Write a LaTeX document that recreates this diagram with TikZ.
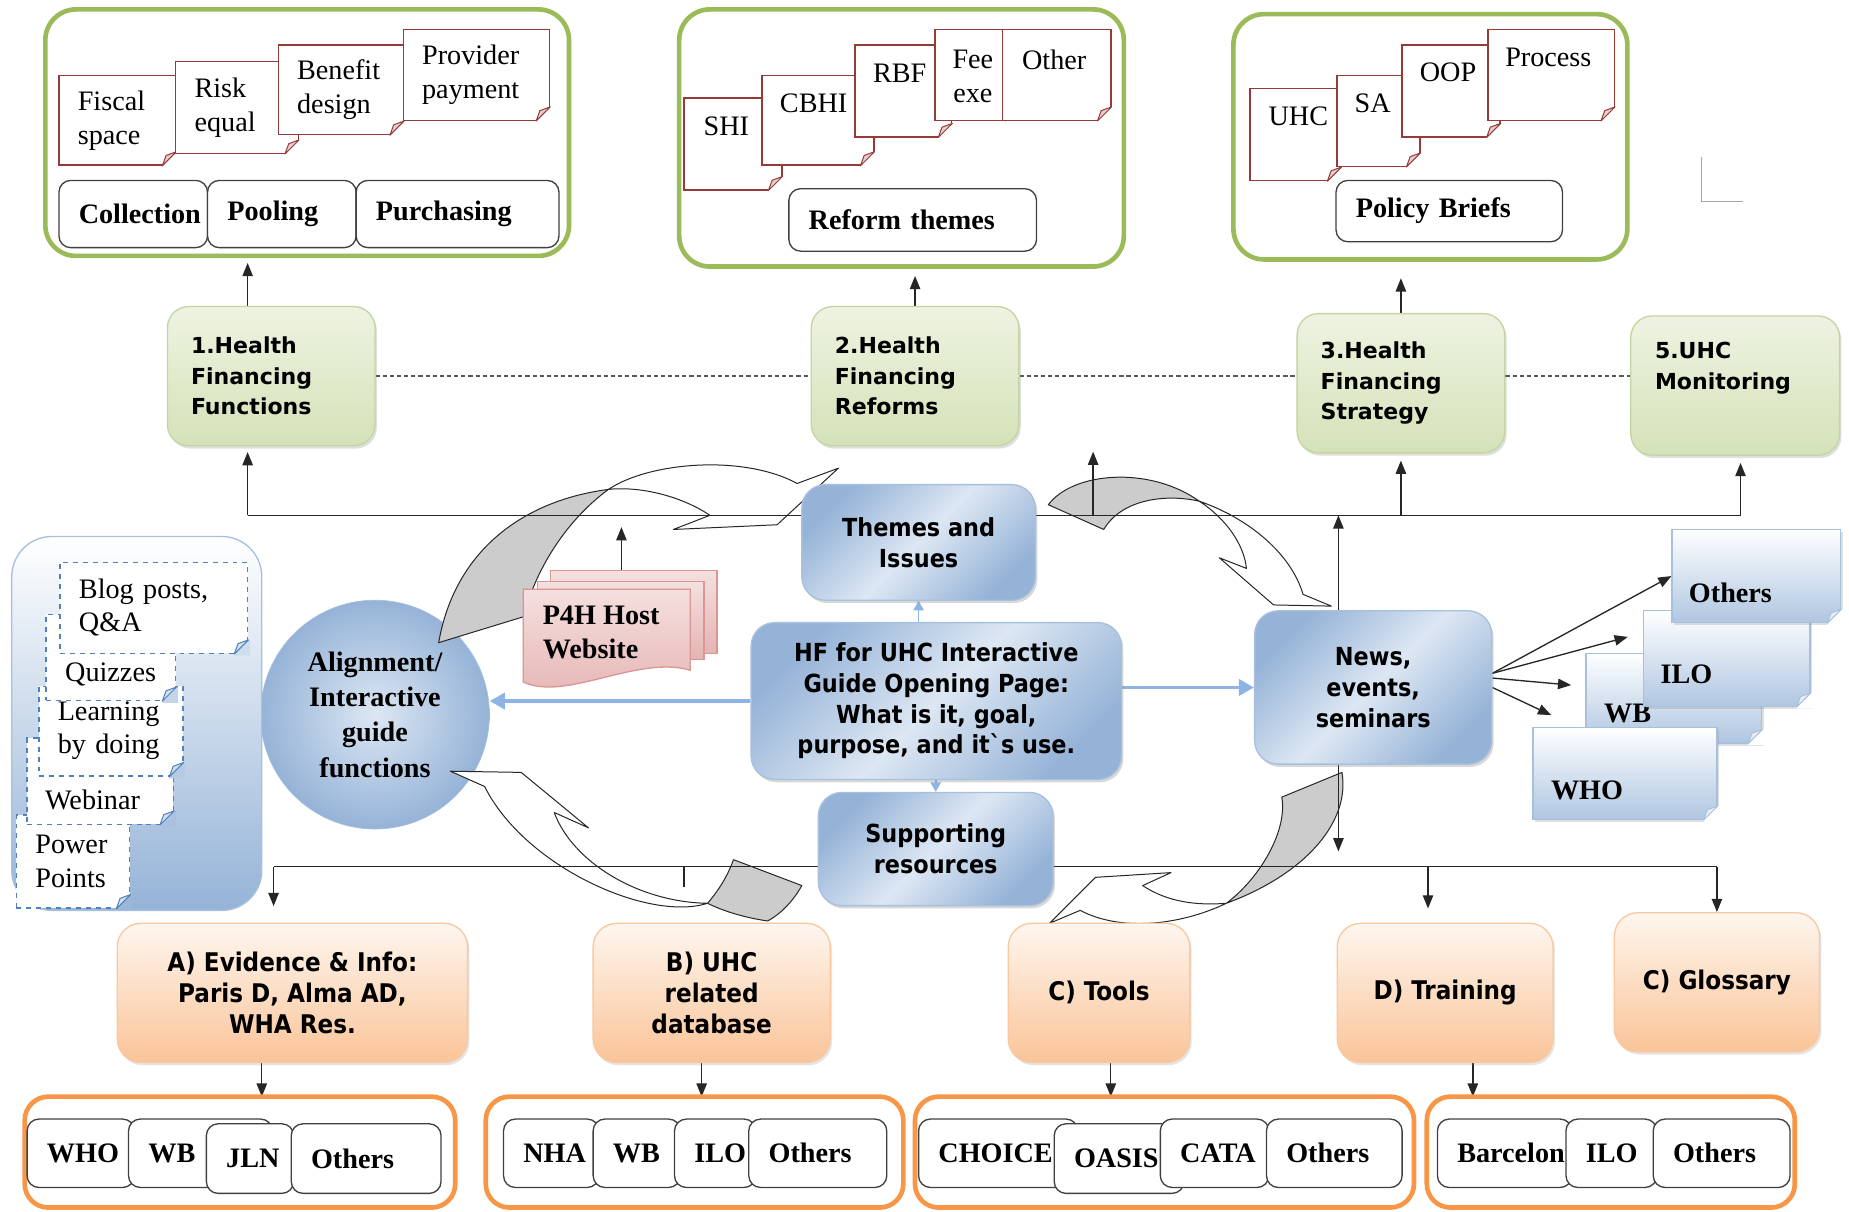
\documentclass[tikz,border=0pt]{standalone}
\usepackage{fontspec}
\setmainfont{Liberation Serif}
\newfontfamily\vsans{DejaVu Sans}
\newfontfamily\csans{DejaVu Sans Condensed}
\usetikzlibrary{arrows.meta,shadows}
\pgfdeclarelayer{bg}
\pgfsetlayers{bg,main}

\definecolor{hfgreen}{RGB}{155,187,89}
\definecolor{greentop}{RGB}{238,243,226}
\definecolor{greenbot}{RGB}{212,226,184}
\definecolor{greenedge}{RGB}{196,214,160}
\definecolor{notered}{RGB}{150,58,56}
\definecolor{blueD}{RGB}{149,179,215}
\definecolor{blueL}{RGB}{221,231,243}
\definecolor{blueedge}{RGB}{167,192,222}
\definecolor{hfblue}{RGB}{141,180,226}
\definecolor{dashblue}{RGB}{79,129,189}
\definecolor{peachtop}{RGB}{254,246,239}
\definecolor{peachbot}{RGB}{250,196,152}
\definecolor{peachedge}{RGB}{250,200,160}
\definecolor{bandorange}{RGB}{247,150,70}
\definecolor{pinktop}{RGB}{244,224,223}
\definecolor{pinkbot}{RGB}{229,180,179}
\definecolor{pinkedge}{RGB}{217,150,148}
\definecolor{flowgray}{RGB}{204,204,204}

% folded corner of a note: [cut colour]{node}{line colour}
\newcommand{\notefold}[3][white]{%
  \fill[#1] ([xshift=-0.3cm]#2.south east) -- ([xshift=-0.3cm,yshift=-1pt]#2.south east) -- ([xshift=1pt,yshift=-1pt]#2.south east) -- ([xshift=1pt,yshift=0.3cm]#2.south east) -- ([yshift=0.3cm]#2.south east) -- cycle;
  \draw[#3, line width=0.6pt, fill=#3!25, line join=round] ([xshift=-0.3cm]#2.south east) -- ([yshift=0.3cm]#2.south east) -- ([xshift=-0.22cm,yshift=0.22cm]#2.south east) -- cycle;}

\begin{document}
\begin{tikzpicture}[x=0.025cm, y=-0.025cm,
    every node/.style={inner sep=0pt},
    frame/.style={draw=hfgreen, line width=2.8pt, rounded corners=0.65cm},
    paperbox/.style={draw=notered, line width=0.9pt, fill=white},
    paper/.style={paperbox, text width=#1, inner xsep=0.4cm, align=left, font=\fontsize{17}{20.5}\selectfont},
    plain/.style={font=\fontsize{17}{20.5}\selectfont, align=center},
    rtext/.style={anchor=west, font=\fontsize{17}{20}\selectfont},
    btext/.style={anchor=west, font=\fontsize{17}{20}\selectfont\bfseries},
    tab/.style={draw=black!75, line width=0.8pt, fill=white, rounded corners=0.25cm, minimum height=1.45cm, text width=#1, inner xsep=0.42cm, align=left, font=\fontsize{17}{20}\selectfont\bfseries},
    greenbox/.style={draw=greenedge, line width=0.8pt, top color=greentop, bottom color=greenbot, rounded corners=0.45cm, minimum width=4.4cm, minimum height=2.95cm, text width=3.4cm, inner xsep=0.5cm, align=left, font=\vsans\bfseries\fontsize{13.3}{18.4}\selectfont, drop shadow={shadow xshift=0.04cm, shadow yshift=-0.06cm, opacity=0.25}},
    bluebox/.style={draw=blueedge, line width=0.8pt, top color=blueD, bottom color=blueD, middle color=blueL, shading angle=45, rounded corners=0.5cm, align=center, font=\csans\bfseries\fontsize{15}{18.5}\selectfont, drop shadow={shadow xshift=0.04cm, shadow yshift=-0.06cm, opacity=0.3}},
    peach/.style={draw=peachedge, line width=0.8pt, top color=peachtop, bottom color=peachbot, rounded corners=0.5cm, align=center, font=\csans\bfseries\fontsize{15.5}{18.5}\selectfont, drop shadow={shadow xshift=0.04cm, shadow yshift=-0.06cm, opacity=0.2}},
    band/.style={draw=bandorange, line width=2.8pt, rounded corners=0.5cm},
    panel/.style={draw=blueedge, line width=0.8pt, top color=white, bottom color=blueD, rounded corners=0.85cm},
    dbox/.style={draw=dashblue, dashed, line width=0.9pt, fill=white},
    dnote/.style={dbox, text width=#1, inner xsep=0.4cm, align=left, font=\fontsize{17}{20}\selectfont},
    stack/.style={draw=blueedge, line width=0.8pt, top color=white, bottom color=blueD!75, drop shadow={shadow xshift=0.04cm, shadow yshift=-0.06cm, opacity=0.25}},
    webpaper/.style={draw=pinkedge, line width=0.8pt, top color=pinktop, bottom color=pinkbot},
    conn/.style={draw=black!85, line width=0.8pt},
    arr/.style={conn, -{Triangle[length=0.28cm,width=0.22cm]}},
    bluearr/.style={draw=hfblue, line width=2.2pt, -{Triangle[length=0.32cm,width=0.34cm]}},
    bluetip/.style={draw=hfblue, line width=1pt, -{Triangle[length=0.2cm,width=0.22cm]}},
    link/.style={draw=black!65, line width=0.9pt, dash pattern=on 2.5pt off 1.8pt},
    flow/.style={draw=black!85, line width=0.6pt, fill=white, line join=round},
    flowback/.style={flow, fill=flowgray}]
\useasboundingbox (0,0) rectangle (1568,1027);

\coordinate (busL) at (210,437);
\coordinate (busR) at (1476,437);
\coordinate (nup) at (1135,437);
\coordinate (stub) at (927,383);
\coordinate (webup) at (527,447);
\coordinate (lowL) at (232,735);
\coordinate (lowR) at (1456,735);
\coordinate (tick) at (580,752);
\coordinate (trn) at (1211,735);
\coordinate (ndn) at (1135,722);
\coordinate (da) at (222,930);
\coordinate (db-a) at (595,930);
\coordinate (dc) at (942,930);
\coordinate (dd) at (1249,930);

\begin{pgfonlayer}{bg}
  \fill[white] (0,0) rectangle (1568,1027);
  \node (circ) [circle, minimum size=4.85cm, draw=blueedge, inner color=blueL, outer color=blueD, align=center, font=\fontsize{17}{21.3}\selectfont\bfseries] at (318,606) {Alignment/\\Interactive\\guide\\functions};
  % turning arrows round the centre
  \draw[flow] (516,415) .. controls (550,392) and (630,385) .. (676,410) -- (711,397) -- (659,445) -- (571,449) -- (602,437) .. controls (580,422) and (545,412) .. (516,415) -- cycle;
  \draw[flowback] (372,545) .. controls (385,470) and (440,425) .. (516,415) .. controls (482,440) and (455,480) .. (444,523) -- cycle;
  \draw[flowback] (889,428) .. controls (910,400) and (975,395) .. (1017,425) .. controls (985,418) and (950,425) .. (936,449) -- cycle;
  \draw[flow] (1017,425) .. controls (1060,440) and (1095,470) .. (1105,504) -- (1129,514) -- (1080,513) -- (1034,473) -- (1057,482) .. controls (1055,462) and (1040,440) .. (1017,425) -- cycle;
  \draw[flowback] (1087,676) -- (1138,655) .. controls (1145,695) and (1110,740) .. (1040,766) .. controls (1068,745) and (1092,705) .. (1087,676) -- cycle;
  \draw[flow] (1040,766) .. controls (1000,785) and (950,790) .. (916,772) -- (890,783) -- (929,744) -- (993,740) -- (969,751) .. controls (990,765) and (1015,768) .. (1040,766) -- cycle;
  \draw[flow] (382,654) -- (442,655) -- (499,702) -- (470,689) .. controls (485,730) and (540,765) .. (600,766) .. controls (550,782) and (445,735) .. (411,667) -- cycle;
  \draw[flowback] (600,766) .. controls (612,752) and (618,740) .. (622,729) -- (680,751) .. controls (672,765) and (662,775) .. (651,781) .. controls (630,778) and (612,772) .. (600,766) -- cycle;
\end{pgfonlayer}

% financing functions
\node (fun) [frame, minimum width=11.1cm, minimum height=5.225cm] at (260.5,112.5) {};
\node (fisc) [paper=1.675cm, minimum height=1.9cm] at (99.5,102) {Fiscal\\space};
\notefold{fisc}{notered}
\node (risk) [paper=1.8cm, minimum height=1.95cm] at (201,91) {Risk\\equal};
\notefold{risk}{notered}
\node (bene) [paper=1.85cm, minimum height=1.9cm] at (289,76) {Benefit\\design};
\notefold{bene}{notered}
\node (prov) [paper=2.3cm, minimum height=1.925cm] at (404,63.5) {Provider\\payment};
\notefold{prov}{notered}
\node (coll) [tab=2.31cm, minimum height=1.425cm] at (113,181.5) {Collection};
\node (pool) [tab=2.31cm, minimum height=1.425cm] at (239,181.5) {Pooling};
\node (purch) [tab=3.46cm, minimum height=1.425cm] at (388,181.5) {Purchasing};

% reforms
\node (ref) [frame, minimum width=9.425cm, minimum height=5.45cm] at (764.5,117) {};
\node (shi) [paperbox, minimum width=2.075cm, minimum height=1.95cm] at (621.5,122) {};
\notefold{shi}{notered}
\node (shi-t) [plain] at (616,107) {SHI};
\node (cbhi) [paperbox, minimum width=2.375cm, minimum height=1.9cm] at (693.5,102) {};
\notefold{cbhi}{notered}
\node (cbhi-t) [plain] at (690,88) {CBHI};
\node (rbf) [paperbox, minimum width=2.05cm, minimum height=1.95cm] at (766,77) {};
\notefold{rbf}{notered}
\node (rbf-t) [plain] at (763,62) {RBF};
\node (fee) [paperbox, minimum width=1.775cm, minimum height=1.925cm] at (828.5,63.5) {};
\notefold{fee}{notered}
\node (fee-t) [plain] at (825,65) {Fee\\exe};
\node (othr) [paperbox, minimum width=2.3cm, minimum height=1.925cm] at (896,63.5) {};
\notefold{othr}{notered}
\node (othr-t) [plain] at (894,51) {Other};
\node (rth) [tab=4.41cm, minimum height=1.325cm] at (774,186.5) {Reform themes};

% strategy
\node (pol) [frame, minimum width=8.35cm, minimum height=5.2cm] at (1213,116) {};
\node (uhc) [paperbox, minimum width=1.925cm, minimum height=1.95cm] at (1098.5,114) {};
\notefold{uhc}{notered}
\node (uhc-t) [plain] at (1101,99) {UHC};
\node (sa) [paperbox, minimum width=1.75cm, minimum height=1.925cm] at (1169,102.5) {};
\notefold{sa}{notered}
\node (sa-t) [plain] at (1164,88) {SA};
\node (oop) [paperbox, minimum width=2.075cm, minimum height=1.95cm] at (1230.5,77) {};
\notefold{oop}{notered}
\node (oop-t) [plain] at (1228,61) {OOP};
\node (proc) [paperbox, minimum width=2.675cm, minimum height=1.925cm] at (1315.5,63.5) {};
\notefold{proc}{notered}
\node (proc-t) [plain] at (1313,49) {Process};
\node (brief) [tab=3.96cm, minimum height=1.3cm] at (1229,179) {Policy Briefs};
\draw[black!35, line width=0.6pt] (1443,133) -- (1443,171) -- (1478,171);

% guide sections
\node (hf1) [greenbox] at (230,319) {1.Health\\Financing\\Functions};
\node (hf2) [greenbox] at (776,319) {2.Health\\Financing\\Reforms};
\node (hf3) [greenbox] at (1188,325) {3.Health\\Financing\\Strategy};
\node (hf5) [greenbox, minimum width=4.425cm] at (1471.5,327) {5.UHC\\Monitoring\\\strut};

% centre
\node (themes) [bluebox, minimum width=4.95cm, minimum height=2.45cm] at (779,460) {Themes and\\Issues};
\node (hf) [bluebox, minimum width=7.85cm, minimum height=3.325cm] at (794,594.5) {HF for UHC Interactive\\Guide Opening Page:\\What is it, goal,\\purpose, and it\textasciigrave s use.};
\node (sup) [bluebox, minimum width=4.975cm, minimum height=2.4cm] at (793.5,720) {Supporting\\resources};
\node (news) [bluebox, minimum width=5.025cm, minimum height=3.25cm] at (1164.5,583) {News,\\events,\\seminars};

% host website
\node (p4hc) [webpaper, minimum width=3.525cm, minimum height=1.75cm] at (537.5,519) {};
\node (p4hb) [webpaper, minimum width=3.525cm, minimum height=1.65cm] at (526.5,526) {};
\node (p4h) [minimum width=3.525cm, minimum height=2cm] at (514.5,540) {};
\path[webpaper] (p4h.north west) -- (p4h.north east) -- ([yshift=0.3cm]p4h.south east) .. controls ([xshift=-1.125cm,yshift=0.625cm]p4h.south east) and ([xshift=0.9cm,yshift=-0.375cm]p4h.south west) .. ([yshift=0.05cm]p4h.south west) -- cycle;
\node (p4h-t) [btext, align=left, font=\fontsize{17}{20.5}\selectfont\bfseries] at (460,536.5) {P4H Host\\Website};

% learning resources
\node (res) [panel, minimum width=5.3cm, minimum height=7.925cm] at (116,613.5) {};
\node (pp) [dnote=1.6cm, minimum height=1.975cm] at (62,730.5) {Power\\Points};
\notefold[blueD!95]{pp}{dashblue}
\node (web) [dbox, minimum width=3.1cm, minimum height=1.825cm] at (85,662.5) {};
\notefold[blueD!80]{web}{dashblue}
\node (web-t) [rtext] at (38,678) {Webinar};
\node (lbd) [dnote=2.25cm, minimum height=1.9cm] at (94,620) {Learning\\by doing};
\notefold[blueD!70]{lbd}{dashblue}
\node (quiz) [dbox, minimum width=2.75cm, minimum height=1.825cm] at (94,557.5) {};
\notefold[blueD!55]{quiz}{dashblue}
\node (quiz-t) [rtext] at (55,572) {Quizzes};
\node (blog) [dnote=3.175cm, minimum height=1.925cm] at (130.5,515.5) {Blog posts,\\Q\&A};
\notefold[blueD!45]{blog}{dashblue}

% partners
\node (sWb) [stack, minimum width=3.725cm, minimum height=1.9cm] at (1419.5,592) {};
\notefold{sWb}{blueedge}
\node (sWb-t) [btext] at (1360,605) {WB};
\node (sWho) [stack, minimum width=3.9cm, minimum height=1.95cm] at (1378,656) {};
\notefold{sWho}{blueedge}
\node (sWho-t) [btext] at (1315,670) {WHO};
\node (sIlo) [stack, minimum width=3.525cm, minimum height=2.025cm] at (1464.5,558.5) {};
\notefold{sIlo}{blueedge}
\node (sIlo-t) [btext] at (1408,572) {ILO};
\node (sOth) [stack, minimum width=3.575cm, minimum height=1.975cm] at (1489.5,488.5) {};
\notefold{sOth}{blueedge}
\node (sOth-t) [btext] at (1432,503) {Others};

% supporting resources
\node (evi) [peach, minimum width=7.425cm, minimum height=2.95cm] at (248,842) {A) Evidence \& Info:\\Paris D, Alma AD,\\WHA Res.};
\node (db) [peach, minimum width=5.025cm, minimum height=2.95cm] at (603.5,842) {B) UHC\\related\\database};
\node (tools) [peach, minimum width=3.85cm, minimum height=2.95cm] at (932,842) {C) Tools};
\node (train) [peach, minimum width=4.575cm, minimum height=2.95cm] at (1225.5,842) {D) Training};
\node (glos) [peach, minimum width=4.35cm, minimum height=2.95cm] at (1456,833) {C) Glossary};

\node (band1) [band, minimum width=9.125cm, minimum height=2.35cm] at (203.5,977) {};
\node (who1) [tab=1.435cm] at (68.5,978) {WHO};
\node (wb1) [tab=2.21cm] at (170,978) {WB};
\node (jln) [tab=1.01cm, minimum height=1.475cm] at (212,982.5) {JLN};
\node (oth1) [tab=2.335cm, minimum height=1.475cm] at (310.5,982.5) {Others};

\node (band2) [band, minimum width=8.85cm, minimum height=2.35cm] at (589,977) {};
\node (nha) [tab=1.185cm] at (467.5,978) {NHA};
\node (wb2) [tab=1.01cm] at (540,978) {WB};
\node (ilo2) [tab=0.885cm] at (606.5,978) {ILO};
\node (oth2) [tab=2.085cm] at (693.5,978) {Others};

\node (band3) [band, minimum width=10.575cm, minimum height=2.35cm] at (987.5,977) {};
\node (choice) [tab=2.535cm] at (846.5,978) {CHOICE};
\node (oasis) [tab=1.91cm, minimum height=1.475cm] at (949,982.5) {OASIS};
\node (cata) [tab=1.46cm] at (1030,978) {CATA};
\node (oth3) [tab=2.035cm] at (1131.5,978) {Others};

\node (band4) [band, minimum width=7.8cm, minimum height=2.35cm] at (1366,977) {};
\node (barc) [tab=2.01cm] at (1276,978) {Barcelon};
\node (ilo4) [tab=1.085cm] at (1366.5,978) {ILO};
\node (oth4) [tab=2.06cm] at (1460,978) {Others};

\begin{pgfonlayer}{bg}
  \draw[link] (hf1.east) -- (hf2.west);
  \draw[link] (hf2.east) -- (hf2.east -| hf3.west);
  \draw[link] (hf2.east -| hf3.east) -- (hf2.east -| hf5.west);
  \draw[arr, shorten >=0.1cm] (busL |- hf1.north) -- (busL |- fun.south);
  \draw[arr, shorten >=0.15cm] (hf2.north) -- (hf2.north |- ref.south);
  \draw[arr, shorten >=0.35cm] (hf3.north) -- (hf3.north |- pol.south);
  \draw[conn] (busL) -- (busR);
  \draw[arr, shorten >=0.12cm] (busL) -- (busL |- hf1.south);
  \draw[arr, shorten >=0.15cm] (hf3.south |- busL) -- (hf3.south);
  \draw[arr, shorten >=0.15cm] (busR) -- (busR |- hf5.south);
  \draw[arr] (stub |- busL) -- (stub);
  \draw[arr] (nup |- news.north) -- (nup);
  \draw[arr] (webup |- p4hc.north) -- (webup);
  \draw[bluearr] (hf.west) -- (hf.west -| circ.east);
  \draw[bluearr] (hf.east |- news.west) -- (news.west);
  \draw[bluetip] (themes.south |- hf.north) -- (themes.south);
  \draw[bluetip] (sup.north |- hf.south) -- (sup.north);
  \draw[arr] ([yshift=0.3cm]news.east) -- (sOth.west);
  \draw[arr] ([yshift=0.3cm]news.east) -- ([xshift=-0.325cm,yshift=0.46cm]sIlo.west);
  \draw[arr] ([yshift=0.2cm]news.east) -- ([xshift=-0.3cm,yshift=0.275cm]sWb.west);
  \draw[arr] (news.east) -- ([xshift=0.4cm,yshift=0.25cm]sWho.north west);
  \draw[arr] (ndn |- news.south) -- (ndn);
  \draw[conn] (lowL) -- (lowR);
  \draw[arr, shorten >=0.35cm] (lowL) -- (lowL |- evi.north);
  \draw[conn] (tick |- lowL) -- (tick);
  \draw[arr, shorten >=0.3cm] (trn) -- (trn |- train.north);
  \draw[arr] (lowR) -- (lowR |- glos.north);
  \draw[arr] (da |- evi.south) -- (da);
  \draw[arr] (db-a |- db.south) -- (db-a);
  \draw[arr] (dc |- tools.south) -- (dc);
  \draw[arr] (dd |- train.south) -- (dd);
\end{pgfonlayer}
\end{tikzpicture}
\end{document}
